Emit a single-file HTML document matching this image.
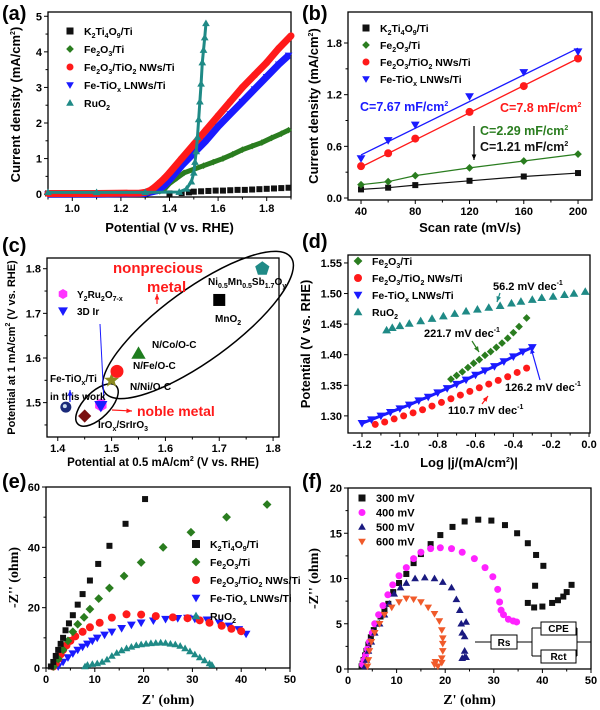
<!DOCTYPE html>
<html><head><meta charset="utf-8"><style>
html,body{margin:0;padding:0;background:#fff}
svg{display:block}
text{font-family:"Liberation Sans",Arial,sans-serif;font-weight:bold}
.ser{font-family:"Liberation Serif",serif}
</style></head><body>
<svg id="fig" width="600" height="710" viewBox="0 0 600 710" xmlns="http://www.w3.org/2000/svg"></svg>
<script>
// ---------- data (a) ----------
const aKx=[0.9,1.0,1.1,1.2,1.3,1.4,1.45,1.48,1.5,1.53,1.56,1.59,1.62,1.65,1.68,1.71,1.74,1.77,1.8,1.83,1.86,1.89];
const aKy=[0.02,0.02,0.02,0.02,0.02,0.02,0.03,0.05,0.07,0.08,0.09,0.1,0.1,0.11,0.12,0.12,0.13,0.14,0.15,0.16,0.17,0.18];
const aGx=[0.9,1.1,1.3,1.36,1.38,1.4,1.43,1.46,1.5,1.54,1.58,1.62,1.66,1.7,1.74,1.78,1.82,1.86,1.89];
const aGy=[0.02,0.02,0.04,0.08,0.15,0.3,0.45,0.6,0.7,0.8,0.9,1.0,1.12,1.25,1.35,1.45,1.58,1.7,1.8];
const aRx=[0.9,1.1,1.28,1.3,1.32,1.34,1.36,1.38,1.4,1.45,1.5,1.55,1.6,1.65,1.7,1.75,1.8,1.85,1.9];
const aRy=[0.02,0.02,0.03,0.05,0.1,0.2,0.32,0.45,0.6,1.0,1.4,1.8,2.2,2.6,3.0,3.35,3.7,4.1,4.45];
const aBx=[0.9,1.1,1.3,1.35,1.38,1.4,1.45,1.5,1.55,1.6,1.65,1.7,1.75,1.8,1.85,1.89];
const aBy=[0.0,0.0,0.02,0.1,0.25,0.4,0.8,1.15,1.5,1.9,2.25,2.6,2.95,3.3,3.65,3.9];
const aUx=[0.9,1.1,1.3,1.44,1.47,1.49,1.5,1.505,1.51,1.515,1.52,1.525,1.53,1.535,1.54,1.545,1.55];
const aUy=[0.05,0.05,0.05,0.06,0.15,0.35,0.6,0.9,1.2,1.6,2.1,2.6,3.1,3.7,4.05,4.4,4.8];
// ---------- data (b) ----------
const bX=[40,60,80,120,160,200];
const bK=[0.1,0.12,0.15,0.2,0.25,0.29];
const bG=[0.155,0.19,0.26,0.35,0.43,0.51];
const bR=[0.37,0.52,0.69,1.0,1.3,1.62];
const bB=[0.46,0.67,0.85,1.18,1.46,1.7];
const bFitR=[0.36,1.62];
const bFitB=[0.5,1.74];
// ---------- data (c) ----------
const cNames=["Fe-TiOx/Ti","IrOx/SrIrO3","Y2Ru2O7-x","3D Ir","N/Ni/O-C","N/Fe/O-C","N/Co/O-C","MnO2","NiMnSbO"];
const cX=[1.415,1.45,1.48,1.48,1.50,1.51,1.55,1.70,1.78];
const cY=[1.49,1.47,1.495,1.493,1.55,1.57,1.61,1.73,1.80];
// ---------- data (d) ----------
const dUx=[-1.07,-1.04,-1.0,-0.95,-0.89,-0.83,-0.77,-0.71,-0.65,-0.59,-0.53,-0.47,-0.41,-0.36,-0.30,-0.25,-0.19,-0.13,-0.08,-0.02];
const dUy=[1.44,1.444,1.447,1.451,1.455,1.459,1.463,1.467,1.471,1.474,1.477,1.480,1.484,1.487,1.490,1.493,1.495,1.498,1.500,1.503];
const dGx=[-0.73,-0.70,-0.67,-0.64,-0.61,-0.58,-0.55,-0.52,-0.49,-0.46,-0.43,-0.40,-0.37,-0.33];
const dGy=[1.360,1.366,1.372,1.379,1.386,1.392,1.399,1.405,1.412,1.419,1.427,1.436,1.446,1.46];
const dBx=[-1.2,-1.15,-1.1,-1.05,-1.0,-0.95,-0.9,-0.85,-0.8,-0.75,-0.7,-0.65,-0.6,-0.55,-0.5,-0.45,-0.4,-0.35,-0.3];
const dBy=[1.288,1.294,1.300,1.306,1.312,1.318,1.325,1.331,1.338,1.345,1.352,1.359,1.367,1.374,1.381,1.389,1.397,1.405,1.412];
const dRx=[-1.13,-1.08,-1.03,-0.98,-0.93,-0.88,-0.83,-0.78,-0.73,-0.68,-0.63,-0.58,-0.53,-0.48,-0.43,-0.38,-0.33];
const dRy=[1.286,1.290,1.295,1.300,1.305,1.310,1.316,1.322,1.328,1.334,1.340,1.346,1.352,1.358,1.364,1.371,1.378];
// ---------- data (e) ----------
const eKx=[1,1.5,2,2.5,3,3.5,4,4.7,5.5,6.5,7.5,9,10.7,13,16.3,20.3];
const eKy=[0.5,2,4,6,8,10,12.5,14.8,17.5,21,24.5,29,34.5,40.5,47.8,56];
const eGx=[1.5,2.5,3.5,4.5,5.5,6.5,7.8,9,10.8,13,16,19.5,24,29.7,37,45.3];
const eGy=[0.5,3,6,9,12,14.5,16.8,19.5,23,26.5,30.5,35,40,45,50,54.2];
const eRx=[1.5,2,2.5,3,3.5,4.2,5,6,7.5,9,11,13.5,16.5,19.5,22.5,26,29,31.5,33.5,36,38,40];
const eRy=[0.5,1.5,3,4.5,6,7.5,9,10.5,12,13.5,15,16.7,17.8,17.7,17.2,16.8,16.5,15.8,15,14,13,12.2];
const eBx=[2.5,3.5,4.5,5.5,6.5,7.5,8.5,9.5,10.5,12,13.5,15.5,17.5,19.5,22,24.5,27,29,30.5,33,35.5,37.5,39.5,41];
const eBy=[0.5,2,3.5,4.8,6,7,8,9,10,11,12,13.2,14.3,15,15.7,16.2,16.5,16.6,16.3,16,15,14,12.8,11.3];
const eUx=[8,8.5,9.5,10.5,11.5,12.5,13.5,14.5,15.5,16.5,17.5,18.5,19.5,20.5,21.5,22.5,23.5,24.5,25.5,26.5,27.5,28.5,29.5,30.5,31.5,32.5,33.5,34];
const eUy=[0.5,1,1.3,1.5,2,2.8,4,5,5.8,6.5,7,7.5,7.8,8,8.2,8.3,8.4,8.3,8,7.8,7.3,6.5,5.5,4.5,3.5,2.5,1.5,1];
// ---------- data (f) ----------
const f3x=[2.8,3,3.2,3.5,3.8,4.2,4.7,5.3,6,6.7,7.5,8.3,9.3,10.5,12,13.5,15,17,19,21.5,24,26.8,29.5,32.3,34.8,37,38.7,40.2,38.5,37,38.3,40,42,43.2,44.3,45,46];
const f3y=[0.3,0.6,1,1.5,2,2.7,3.5,4.3,5,5.8,6.5,7.2,8.5,9.5,10.5,11.7,12.7,13.8,14.8,15.7,16.3,16.5,16.4,15.9,15,13.9,12.6,11.4,9.2,7.3,6.8,6.9,7.3,7.6,8,8.5,9.3];
const f4x=[3,3.3,3.6,4,4.4,5,5.5,6.3,7.2,8.2,9.2,10.5,12,13.5,15,17,19,21.3,23.5,26,28.2,29.8,30.8,31.2,31.5,32,33,34,34.7];
const f4y=[0.5,1,1.5,2.2,3,4,5,6,7,8.2,9.3,10.3,11.2,12.2,12.9,13.3,13.4,13.3,12.9,12.2,11.2,10.2,8.8,7.4,6.5,6,5.5,5.3,5.2];
const f5x=[3.5,3.8,4.2,4.8,5.5,6.5,7.5,8.5,9.5,10.8,12,13.8,15.8,17.8,19.5,21.3,22.3,23,23.3,23.5,24,24.3,24,24.3,23.5,24];
const f5y=[0.3,1,2,3,4,5,6,7.2,8.3,9,9.5,10,10.1,10,9.6,9,7.7,6.5,5,4,3.6,5.2,2,1.3,1.2,1.3];
const f6x=[4,4.2,4.4,4.8,5.5,6.5,7.5,9,10.5,12,13.5,15,16.5,17.8,18.8,19.3,19.5,19.5,19.5,19.3,19.3,18,17.8,18.5];
const f6y=[0.3,1,2,3,4,5,6,6.8,7.4,7.8,7.7,7.4,6.8,6.1,5.3,4.3,3.4,2.8,2,1.2,0.7,0.8,0.5,0.3];

// ---------- helpers ----------
const NS="http://www.w3.org/2000/svg";
const svg=document.getElementById('fig');
function mk(tag,parent){const e=document.createElementNS(NS,tag);(parent||svg).appendChild(e);return e;}
function lin(d0,d1,p0,p1){return v=>p0+(v-d0)*(p1-p0)/(d1-d0);}
function txt(parent,x,y,s,size,opts){
  const t=mk('text',parent);t.setAttribute('x',x);t.setAttribute('y',y);
  t.setAttribute('font-size',size);
  if(opts){for(const k in opts)t.setAttribute(k,opts[k]);}
  t.innerHTML=s;return t;
}
function shape(parent,type,x,y,s,fill){
  let e;
  if(type==='circle'){e=mk('circle',parent);e.setAttribute('cx',x);e.setAttribute('cy',y);e.setAttribute('r',s/2);}
  else if(type==='square'){e=mk('rect',parent);e.setAttribute('x',x-s/2);e.setAttribute('y',y-s/2);e.setAttribute('width',s);e.setAttribute('height',s);}
  else{
    let pts;const h=s/2;
    if(type==='diamond')pts=[[0,-h*1.1],[h*1.1,0],[0,h*1.1],[-h*1.1,0]];
    else if(type==='up')pts=[[0,-h*1.1],[h*1.1,h*0.8],[-h*1.1,h*0.8]];
    else if(type==='down')pts=[[0,h*1.1],[h*1.1,-h*0.8],[-h*1.1,-h*0.8]];
    else if(type==='hex'){pts=[];for(let i=0;i<6;i++){const a=Math.PI/3*i+Math.PI/6;pts.push([h*1.1*Math.cos(a),h*1.1*Math.sin(a)]);}}
    else if(type==='pent'){pts=[];for(let i=0;i<5;i++){const a=-Math.PI/2+2*Math.PI/5*i;pts.push([h*1.15*Math.cos(a),h*1.15*Math.sin(a)]);}}
    else if(type==='star'){pts=[];for(let i=0;i<10;i++){const a=-Math.PI/2+Math.PI/5*i;const r=i%2?h*0.5:h*1.2;pts.push([r*Math.cos(a),r*Math.sin(a)]);}}
    e=mk('polygon',parent);e.setAttribute('points',pts.map(p=>(x+p[0])+','+(y+p[1])).join(' '));
  }
  e.setAttribute('fill',fill);return e;
}
function series(parent,X,Y,xs,ys,type,s,fill,name,band){
  const g=mk('g',parent);
  
  
  if(band){const p=mk('polyline',g);p.setAttribute('points',X.map((v,i)=>xs(v)+','+ys(Y[i])).join(' '));
    p.setAttribute('fill','none');p.setAttribute('stroke',fill);p.setAttribute('stroke-width',band);p.setAttribute('stroke-linejoin','round');}
  X.forEach((v,i)=>{const m=shape(g,type,xs(v),ys(Y[i]),s,fill);
    
    });
  return g;
}
function line(parent,x1,y1,x2,y2,col,w){const l=mk('line',parent);l.setAttribute('x1',x1);l.setAttribute('y1',y1);l.setAttribute('x2',x2);l.setAttribute('y2',y2);l.setAttribute('stroke',col||'#000');l.setAttribute('stroke-width',w||1);return l;}
function arrow(parent,x1,y1,x2,y2,col){
  line(parent,x1,y1,x2,y2,col,1.2);
  const a=Math.atan2(y2-y1,x2-x1),L=6;
  const p=mk('polygon',parent);
  p.setAttribute('points',`${x2},${y2} ${x2-L*Math.cos(a-0.4)},${y2-L*Math.sin(a-0.4)} ${x2-L*Math.cos(a+0.4)},${y2-L*Math.sin(a+0.4)}`);
  p.setAttribute('fill',col);
}
function axes(P){
  const g=mk('g');
  
  
  const r=mk('rect',g);r.setAttribute('x',P.L);r.setAttribute('y',P.T);r.setAttribute('width',P.R-P.L);r.setAttribute('height',P.B-P.T);
  r.setAttribute('fill','none');r.setAttribute('stroke','#000');r.setAttribute('stroke-width',1.3);
  const xs=lin(P.xd[0],P.xd[1],P.L,P.R),ys=lin(P.yd[0],P.yd[1],P.B,P.T);
  const tg=mk('g',g);
  
  
  P.xt.forEach((v,i)=>{const x=xs(v);line(tg,x,P.B,x,P.B+4);txt(tg,x,P.B+15,P.xl[i],11,{'text-anchor':'middle'});});
  P.xm.forEach(v=>{const x=xs(v);line(tg,x,P.B,x,P.B+2.5);});
  const yg=mk('g',g);
  
  
  P.yt.forEach((v,i)=>{const y=ys(v);line(yg,P.L-4,y,P.L,y);txt(yg,P.L-6,y+4,P.yl[i],11,{'text-anchor':'end'});});
  P.ym.forEach(v=>{const y=ys(v);line(yg,P.L-2.5,y,P.L,y);});
  const xt=txt(g,(P.L+P.R)/2,P.xty,P.xtitle,P.tsz||13,{'text-anchor':'middle'});
  
  
  if(P.serif)xt.setAttribute('class','ser');
  const yt=txt(g,0,0,P.ytitle,P.ysz||P.tsz||13,{'text-anchor':'middle','transform':`translate(${P.ytx},${(P.T+P.B)/2}) rotate(-90)`});
  
  
  if(P.serif)yt.setAttribute('class','ser');
  const pl=txt(g,P.lx,P.ly,P.label,20);
  
  
  return {g,xs,ys};
}
function legend(parent,x,y,dy,items,size,fs){
  const g=mk('g',parent);
  
  
  items.forEach((it,i)=>{const e=mk('g',g);
    
    
    shape(e,it[0],x,y+i*dy,size,it[1]);txt(e,x+14,y+i*dy+4,it[2],fs||10.5);});
}
const sub=s=>`<tspan font-size="7" baseline-shift="-3">${s}</tspan>`;
const sup=s=>`<tspan font-size="7" baseline-shift="5">${s}</tspan>`;
const BLK='#111',GRN='#2a7d1f',RED='#ff1a1a',BLU='#1a1aff',TEAL='#1f8a86';
const LK='K'+sub('2')+'Ti'+sub('4')+'O'+sub('9')+'/Ti',LG='Fe'+sub('2')+'O'+sub('3')+'/Ti',LR='Fe'+sub('2')+'O'+sub('3')+'/TiO'+sub('2')+' NWs/Ti',LB='Fe-TiO'+sub('x')+' LNWs/Ti',LU='RuO'+sub('2');

// ---------- panel a ----------
{const A=axes({name:'panel-a',L:48,R:291,T:12,B:197,xd:[0.9,1.9],yd:[-0.08,5.12],
  xt:[1.0,1.2,1.4,1.6,1.8],xl:['1.0','1.2','1.4','1.6','1.8'],xm:[0.9,1.1,1.3,1.5,1.7,1.9],
  yt:[0,1,2,3,4,5],yl:['0','1','2','3','4','5'],ym:[0.5,1.5,2.5,3.5,4.5],
  xtitle:'Potential (V vs. RHE)',xty:232,ytitle:'Current density (mA/cm'+sup('2')+')',ytx:20,label:'(a)',lx:2,ly:20});
 series(A.g,aKx,aKy,A.xs,A.ys,'square',6,BLK,'series-k2ti4o9',0);
 series(A.g,aGx,aGy,A.xs,A.ys,'diamond',6,GRN,'series-fe2o3',5);
 series(A.g,aBx,aBy,A.xs,A.ys,'down',7,BLU,'series-fe-tiox',7);
 series(A.g,aRx,aRy,A.xs,A.ys,'circle',7,RED,'series-fe2o3-tio2',7);
 series(A.g,aUx,aUy,A.xs,A.ys,'up',7,TEAL,'series-ruo2',3);
 legend(A.g,70,31,18,[['square',BLK,LK],['diamond',GRN,LG],['circle',RED,LR],['down',BLU,LB],['up',TEAL,LU]],7);
}
// ---------- panel b ----------
{const A=axes({name:'panel-b',L:348,R:592,T:12,B:200,xd:[30.4,210.3],yd:[-0.023,2.16],
  xt:[40,80,120,160,200],xl:['40','80','120','160','200'],xm:[60,100,140,180],
  yt:[0,0.6,1.2,1.8],yl:['0.0','0.6','1.2','1.8'],ym:[0.3,0.9,1.5],
  xtitle:'Scan rate (mV/s)',xty:232,ytitle:'Current density (mA/cm'+sup('2')+')',ytx:318,label:'(b)',lx:302,ly:20});
 const fx=[bX[0],bX[5]];
 const lb=mk('polyline',A.g);lb.setAttribute('points',fx.map((v,i)=>A.xs(v)+','+A.ys(bFitB[i])).join(' '));lb.setAttribute('stroke',BLU);lb.setAttribute('stroke-width',1.3);lb.setAttribute('fill','none');
 const lr=mk('polyline',A.g);lr.setAttribute('points',fx.map((v,i)=>A.xs(v)+','+A.ys(bFitR[i])).join(' '));lr.setAttribute('stroke',RED);lr.setAttribute('stroke-width',1.3);lr.setAttribute('fill','none');
 series(A.g,bX,bK,A.xs,A.ys,'square',6,BLK,'series-k2ti4o9',1.2);
 series(A.g,bX,bG,A.xs,A.ys,'diamond',7,GRN,'series-fe2o3',1.2);
 series(A.g,bX,bR,A.xs,A.ys,'circle',8,RED,'series-fe2o3-tio2',0);
 series(A.g,bX,bB,A.xs,A.ys,'down',8,BLU,'series-fe-tiox',0);
 legend(A.g,366,28,17,[['square',BLK,LK],['diamond',GRN,LG],['circle',RED,LR],['down',BLU,LB]],7);
 txt(A.g,360,111,'C=7.67 mF/cm'+sup('2'),12.5,{fill:BLU});
 txt(A.g,500,112,'C=7.8 mF/cm'+sup('2'),12.5,{fill:RED});
 txt(A.g,480,135,'C=2.29 mF/cm'+sup('2'),12.5,{fill:GRN});
 txt(A.g,480,151,'C=1.21 mF/cm'+sup('2'),12.5,{fill:BLK});
 arrow(A.g,474,126,474,160,'#000');
}
// ---------- panel c ----------
{const A=axes({name:'panel-c',L:47,R:279,T:258,B:437,xd:[1.38,1.811],yd:[1.423,1.824],
  xt:[1.4,1.5,1.6,1.7,1.8],xl:['1.4','1.5','1.6','1.7','1.8'],xm:[1.45,1.55,1.65,1.75],
  yt:[1.5,1.6,1.7,1.8],yl:['1.5','1.6','1.7','1.8'],ym:[1.45,1.55,1.65,1.75],
  xtitle:'Potential at 0.5 mA/cm'+sup('2')+' (V vs. RHE)',xty:466,tsz:11.5,ysz:11,ytitle:'Potential at 1 mA/cm'+sup('2')+' (V vs. RHE)',ytx:15,label:'(c)',lx:2,ly:252});
 const types=['circle','diamond','hex','down','star','circle','up','square','pent'];
 const cols=['#1a2a7a','#7a1010','#ff33ff','#1a1aff','#8a8a20','#ff1a1a','#1f7d1f','#000','#1f8a86'];
 const sizes=[11,12,12,12,13,13,13,12,13];
 const eb=mk('ellipse',A.g);eb.setAttribute('cx',198);eb.setAttribute('cy',325);eb.setAttribute('rx',115);eb.setAttribute('ry',36);eb.setAttribute('transform','rotate(-36 198 325)');eb.setAttribute('fill','none');eb.setAttribute('stroke','#000');eb.setAttribute('stroke-width',1.5);
 
 
 const es=mk('ellipse',A.g);es.setAttribute('cx',97);es.setAttribute('cy',405);es.setAttribute('rx',27);es.setAttribute('ry',13);es.setAttribute('transform','rotate(-45 97 405)');es.setAttribute('fill','none');es.setAttribute('stroke','#000');es.setAttribute('stroke-width',1.5);
 
 
 line(A.g,100,324,104,402,'#1a1aff',1);
 cX.forEach((v,i)=>{const m=shape(A.g,types[i],A.xs(v),A.ys(cY[i]),sizes[i],cols[i]);
   
   });
 const hl=mk('circle',A.g);hl.setAttribute('cx',A.xs(cX[0])-1);hl.setAttribute('cy',A.ys(cY[0])-1);hl.setAttribute('r',2);hl.setAttribute('fill','#cde');
 txt(A.g,113,273,'nonprecious',15,{fill:RED});
 txt(A.g,147,292,'metal',15,{fill:RED});
 arrow(A.g,157,304,157,294,RED);
 txt(A.g,137,416,'noble metal',14,{fill:RED});
 arrow(A.g,112,410,132,411,RED);
 shape(A.g,'hex',63,294,9,'#ff33ff');txt(A.g,77,298,'Y'+sub('2')+'Ru'+sub('2')+'O'+sub('7-x'),10);
 shape(A.g,'down',63,311,9,BLU);txt(A.g,77,315,'3D Ir',10);
 txt(A.g,50,382,'Fe-TiO'+sub('x')+'/Ti',10);txt(A.g,50,400,'in this work',10);
 arrow(A.g,70,402,70,390,BLU);
 txt(A.g,152,348,'N/Co/O-C',10);txt(A.g,133,369,'N/Fe/O-C',10);txt(A.g,130,390,'N/Ni/O-C',10);
 txt(A.g,98,428,'IrO'+sub('x')+'/SrIrO'+sub('3'),10);
 txt(A.g,215,322,'MnO'+sub('2'),10);
 txt(A.g,208,285,'Ni'+sub('0.5')+'Mn'+sub('0.5')+'Sb'+sub('1.7')+'O'+sub('y'),10);
}
// ---------- panel d ----------
{const A=axes({name:'panel-d',L:348,R:590,T:255,B:433,xd:[-1.274,0.005],yd:[1.272,1.563],
  xt:[-1.2,-1.0,-0.8,-0.6,-0.4,-0.2,0.0],xl:['-1.2','-1.0','-0.8','-0.6','-0.4','-0.2','0.0'],xm:[-1.1,-0.9,-0.7,-0.5,-0.3,-0.1],
  yt:[1.30,1.35,1.40,1.45,1.50,1.55],yl:['1.30','1.35','1.40','1.45','1.50','1.55'],ym:[],
  xtitle:'Log |j/(mA/cm'+sup('2')+')|',xty:467,ytitle:'Potential (V vs. RHE)',ytx:310,label:'(d)',lx:302,ly:248});
 series(A.g,dUx,dUy,A.xs,A.ys,'up',8,TEAL,'series-ruo2',0);
 series(A.g,dGx,dGy,A.xs,A.ys,'diamond',7,GRN,'series-fe2o3',0);
 series(A.g,dBx,dBy,A.xs,A.ys,'down',8,BLU,'series-fe-tiox',3);
 series(A.g,dRx,dRy,A.xs,A.ys,'circle',7,RED,'series-fe2o3-tio2',0);
 legend(A.g,358,261,17,[['diamond',GRN,LG],['circle',RED,LR],['down',BLU,LB],['up',TEAL,LU]],8);
 txt(A.g,493,290,'56.2 mV dec'+sup('-1'),11);arrow(A.g,500,293,497,302,TEAL);
 txt(A.g,424,337,'221.7 mV dec'+sup('-1'),11);arrow(A.g,472,341,479,352,GRN);
 txt(A.g,505,391,'126.2 mV dec'+sup('-1'),11);arrow(A.g,540,380,531,348,BLU);
 txt(A.g,448,414,'110.7 mV dec'+sup('-1'),11);arrow(A.g,482,404,488,396,RED);
}
// ---------- panel e ----------
{const A=axes({name:'panel-e',L:46,R:290,T:487,B:668,xd:[0,50],yd:[0,60],
  xt:[0,10,20,30,40,50],xl:['0','10','20','30','40','50'],xm:[5,15,25,35,45],
  yt:[0,20,40,60],yl:['0','20','40','60'],ym:[10,30,50],serif:true,tsz:14,
  xtitle:"Z' (ohm)",xty:704,ytitle:"-Z'' (ohm)",ytx:18,label:'(e)',lx:2,ly:488});
 series(A.g,eUx,eUy,A.xs,A.ys,'up',7,TEAL,'series-ruo2',0);
 series(A.g,eBx,eBy,A.xs,A.ys,'down',8,BLU,'series-fe-tiox',0);
 series(A.g,eRx,eRy,A.xs,A.ys,'circle',8,RED,'series-fe2o3-tio2',0);
 series(A.g,eGx,eGy,A.xs,A.ys,'diamond',8,GRN,'series-fe2o3',0);
 series(A.g,eKx,eKy,A.xs,A.ys,'square',6,BLK,'series-k2ti4o9',0);
 legend(A.g,196,544,18,[['square',BLK,LK],['diamond',GRN,LG],['circle',RED,LR],['down',BLU,LB],['up',TEAL,LU]],8,10.5);
}
// ---------- panel f ----------
{const A=axes({name:'panel-f',L:348,R:591,T:488,B:669,xd:[0,50],yd:[0,20],
  xt:[0,10,20,30,40,50],xl:['0','10','20','30','40','50'],xm:[5,15,25,35,45],
  yt:[0,5,10,15,20],yl:['0','5','10','15','20'],ym:[2.5,7.5,12.5,17.5],serif:true,tsz:14,
  xtitle:"Z' (ohm)",xty:704,ytitle:"-Z'' (ohm)",ytx:318,label:'(f)',lx:302,ly:488});
 series(A.g,f3x,f3y,A.xs,A.ys,'square',6,BLK,'series-300mv',0);
 series(A.g,f4x,f4y,A.xs,A.ys,'circle',7,'#ff22ff','series-400mv',0);
 series(A.g,f5x,f5y,A.xs,A.ys,'up',7,'#1a1a80','series-500mv',0);
 series(A.g,f6x,f6y,A.xs,A.ys,'down',7,'#f05a2a','series-600mv',0);
 legend(A.g,362,498,14.5,[['square',BLK,'300 mV'],['circle','#ff22ff','400 mV'],['up','#1a1a80','500 mV'],['down','#f05a2a','600 mV']],7,11);
 const cg=mk('g',A.g);
 
 
 line(cg,475,642,491,642);line(cg,517,642,532,642);line(cg,532,628,532,656);
 line(cg,532,628,541,628);line(cg,576,628,577,628);line(cg,532,656,541,656);line(cg,576,656,577,656);
 line(cg,577,628,577,656);line(cg,577,642,591,642);
 [[491,635,26,14,'Rs'],[541,622,35,13,'CPE'],[541,650,35,13,'Rct']].forEach(b=>{
   const r=mk('rect',cg);r.setAttribute('x',b[0]);r.setAttribute('y',b[1]);r.setAttribute('width',b[2]);r.setAttribute('height',b[3]);r.setAttribute('fill','#fff');r.setAttribute('stroke','#000');
   txt(cg,b[0]+b[2]/2,b[1]+b[3]-3,b[4],10,{'text-anchor':'middle'});});
}
</script>
</body></html>
